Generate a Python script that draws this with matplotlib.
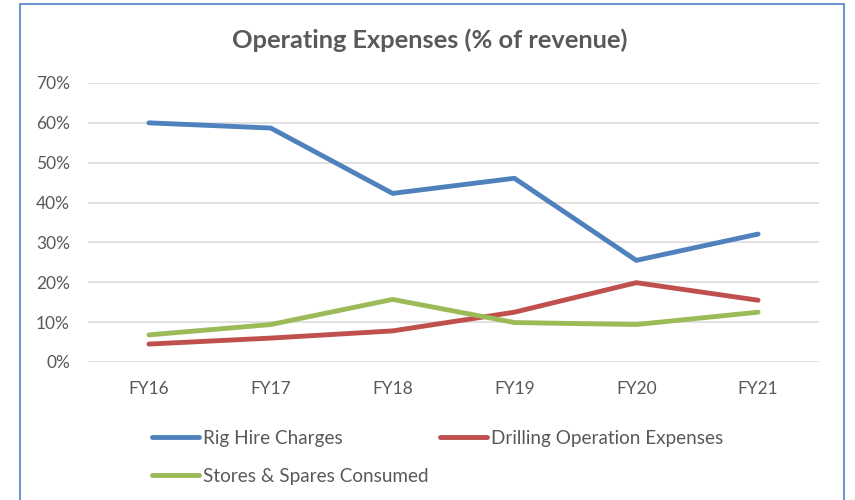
import matplotlib
matplotlib.use("Agg")
import matplotlib.pyplot as plt
from matplotlib.patches import Rectangle
from matplotlib.ticker import PercentFormatter

# Data (fraction of revenue)
years = ["FY16", "FY17", "FY18", "FY19", "FY20", "FY21"]
rig_hire = [0.600, 0.587, 0.423, 0.461, 0.255, 0.321]
drilling = [0.045, 0.060, 0.078, 0.125, 0.199, 0.155]
stores = [0.068, 0.094, 0.157, 0.099, 0.094, 0.125]

plt.rcParams['font.family'] = ['Lato', 'DejaVu Sans']
grey = '#595959'

fig = plt.figure(figsize=(8.55, 5.0), dpi=100)
ax = fig.add_axes([88/855, 1 - 362/500, (819 - 88)/855, (362 - 83)/500])

x = range(len(years))
l1, = ax.plot(x, rig_hire, color='#4F81BD', lw=3.5, solid_capstyle='round', label='Rig Hire Charges')
l2, = ax.plot(x, drilling, color='#C0504D', lw=3.5, solid_capstyle='round', label='Drilling Operation Expenses')
l3, = ax.plot(x, stores, color='#9BBB59', lw=3.5, solid_capstyle='round', label='Stores & Spares Consumed')

ax.set_xlim(-0.5, len(years) - 0.5)
ax.set_ylim(0, 0.7)
ax.set_yticks([i / 10 for i in range(8)])
ax.yaxis.set_major_formatter(PercentFormatter(1.0, decimals=0))
ax.set_xticks(list(x))
ax.set_xticklabels(years)
ax.tick_params(length=0, labelsize=12.5, colors=grey)
ax.tick_params(axis='y', pad=13)
ax.tick_params(axis='x', pad=14)
ax.grid(axis='y', color='#D9D9D9', lw=1.1)
ax.set_axisbelow(True)
for s in ax.spines.values():
    s.set_visible(False)

fig.text(0.503, 1 - 40/500, 'Operating Expenses (% of revenue)', ha='center', va='center',
         fontsize=18.3, fontweight='bold', color=grey)

leg = fig.legend([l1, l3, l2], [l1.get_label(), l3.get_label(), l2.get_label()],
                 ncol=2, loc='upper left', bbox_to_anchor=(135/855, 1 - 413/500),
                 frameon=False, fontsize=13.6, handlelength=2.5, handletextpad=0.2,
                 columnspacing=0.6, labelspacing=1.1, labelcolor=grey)

# blue chart frame
fig.patches.append(Rectangle((20/855, -0.05), (844 - 20)/855, 1.05 - 4/500,
                             transform=fig.transFigure, fill=False,
                             edgecolor='#6F97D0', lw=1.5))

fig.savefig('out.png', dpi=100)
